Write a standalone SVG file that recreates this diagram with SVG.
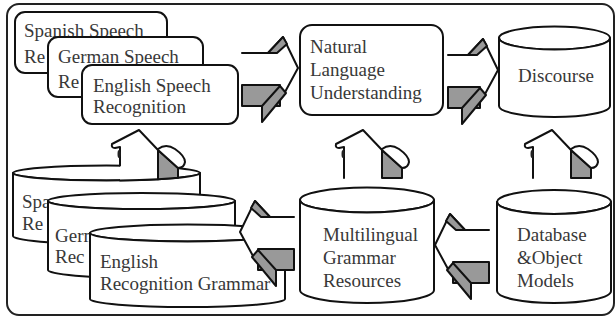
<svg xmlns="http://www.w3.org/2000/svg" width="616" height="320" viewBox="0 0 616 320">
<style>
.bg{fill:#fff}
.frame{fill:#fff;stroke:#222;stroke-width:2}
.f{fill:#fff;stroke:#111;stroke-width:2;stroke-linejoin:round}
.wf{fill:#fff;stroke:none}
.ln{fill:none;stroke:#111;stroke-width:2;stroke-linejoin:round;stroke-linecap:round}
.gy{fill:#999;stroke:#111;stroke-width:2;stroke-linejoin:round}
.tick{fill:#222}
.t{font-family:"Liberation Serif","Times New Roman",serif;font-size:19px;fill:#383838}
</style>
<rect class="bg" x="0" y="0" width="616" height="320"/>
<rect id="frame" class="frame" x="7" y="4" width="607" height="311" rx="12"/>

<g id="spanish-speech">
<rect class="f" x="15" y="12" width="152" height="61" rx="10"/>
<text class="t" x="24" y="37">Spanish Speech</text>
<text class="t" x="24" y="63">Re</text>
</g>
<g id="german-speech">
<rect class="f" x="48" y="37" width="155" height="60" rx="10"/>
<text class="t" x="58" y="63">German Speech</text>
<text class="t" x="58" y="88">Re</text>
</g>
<g id="english-speech">
<rect class="f" x="82" y="65" width="156" height="59" rx="10"/>
<text class="t" x="93" y="92">English Speech</text>
<text class="t" x="93" y="113">Recognition</text>
</g>

<g id="nlu">
<rect class="f" x="300" y="25" width="143" height="90" rx="12"/>
<text class="t" x="310" y="53">Natural</text>
<text class="t" x="310" y="76">Language</text>
<text class="t" x="310" y="99">Understanding</text>
</g>

<g id="discourse">
<ellipse class="f" cx="554.5" cy="38" rx="55.5" ry="11.5"/>
<path class="f" d="M499,38 A55.5,11.5 0 0 0 610,38 V106 A55.5,11 0 0 1 499,106 Z"/>
<text class="t" x="518" y="82">Discourse</text>
</g>

<g id="spanish-grammar">
<ellipse class="f" cx="106.5" cy="173" rx="93.5" ry="7.5"/>
<path class="f" d="M13,173 A93.5,7.5 0 0 0 200,173 V236 A93.5,8 0 0 1 13,236 Z"/>
<text class="t" x="22" y="208">Spa</text>
<text class="t" x="22" y="230">Re</text>
</g>
<g id="german-grammar">
<ellipse class="f" cx="141.5" cy="201" rx="93.5" ry="8"/>
<path class="f" d="M48,201 A93.5,8 0 0 0 235,201 V270 A93.5,8 0 0 1 48,270 Z"/>
<text class="t" x="55" y="242">Germ</text>
<text class="t" x="55" y="263">Rec</text>
</g>
<g id="english-grammar">
<ellipse class="f" cx="187.5" cy="233" rx="97.5" ry="8.5"/>
<path class="f" d="M90,233 A97.5,8.5 0 0 0 285,233 V299 A97.5,8 0 0 1 90,299 Z"/>
<text class="t" x="100" y="268">English</text>
<text class="t" x="100" y="290">Recognition Grammar</text>
</g>

<g id="multilingual">
<ellipse class="f" cx="367" cy="200" rx="67" ry="12.5"/>
<path class="f" d="M300,200 A67,12.5 0 0 0 434,200 V290 A67,13 0 0 1 300,290 Z"/>
<text class="t" x="323" y="241">Multilingual</text>
<text class="t" x="323" y="264">Grammar</text>
<text class="t" x="323" y="287">Resources</text>
</g>

<g id="database">
<ellipse class="f" cx="554" cy="202" rx="57" ry="12"/>
<path class="f" d="M497,202 A57,12 0 0 0 611,202 V291 A57,12 0 0 1 497,291 Z"/>
<text class="t" x="517" y="241">Database</text>
<text class="t" x="517" y="264">&amp;Object</text>
<text class="t" x="517" y="287">Models</text>
</g>

<g id="connectors">
<!-- right arrow: English speech -> NLU -->
<g transform="translate(268,53)">
<path class="wf" d="M-26,0 H0 L15,-16 L30,15 L17,39 L10,32 H-26 Z"/>
<path class="ln" d="M-26,0 H0 L15,-16 L30,15 L17,39"/>
<path class="gy" d="M0,0 L15,-16 L19,-9 L9,0 Z"/>
<rect class="gy" x="-26" y="32" width="38" height="21"/>
<path class="gy" d="M-6,53 L12,33 L18,40 L-6,69 Z"/>
</g>
<!-- right arrow: NLU -> Discourse -->
<g transform="translate(468,55)">
<path class="wf" d="M-20,0 H0 L15,-16 L30,15 L17,39 L10,32 H-20 Z"/>
<path class="ln" d="M-20,0 H0 L15,-16 L30,15 L17,39"/>
<path class="gy" d="M0,0 L15,-16 L19,-9 L9,0 Z"/>
<rect class="gy" x="-20" y="32" width="32" height="21"/>
<path class="gy" d="M-6,53 L12,33 L18,40 L-6,69 Z"/>
</g>
<!-- left arrow: Multilingual -> English grammar -->
<g transform="translate(270,217) scale(-1,1)">
<path class="wf" d="M-24,0 H0 L15,-16 L30,15 L17,39 L10,32 H-24 Z"/>
<path class="ln" d="M-24,0 H0 L15,-16 L30,15 L17,39"/>
<path class="gy" d="M0,0 L15,-16 L19,-9 L9,0 Z"/>
<rect class="gy" x="-24" y="32" width="36" height="21"/>
<path class="gy" d="M-6,53 L12,33 L18,40 L-6,69 Z"/>
</g>
<!-- left arrow: Database -> Multilingual -->
<g transform="translate(465,230) scale(-1,1)">
<path class="wf" d="M-24,0 H0 L15,-16 L30,15 L17,39 L10,32 H-24 Z"/>
<path class="ln" d="M-24,0 H0 L15,-16 L30,15 L17,39"/>
<path class="gy" d="M0,0 L15,-16 L19,-9 L9,0 Z"/>
<rect class="gy" x="-24" y="32" width="36" height="21"/>
<path class="gy" d="M-6,53 L12,33 L18,40 L-6,69 Z"/>
</g>
<!-- up arrow: Spanish grammar -> English speech -->
<g transform="translate(139,130)">
<path class="wf" d="M0,0 L-27,14 Q-28,18 -24,18 L-19,17 V50.42 A93.5,7.5 0 0 0 19,49.26 V20 Z"/>
<path class="ln" d="M-19,35.6 V17 L-24,18 Q-28,18 -27,14 L0,0 L19,20"/>
<path class="ln" d="M-19,50.42 A93.5,7.5 0 0 0 19,49.26"/>
<path class="gy" d="M19,20 L39,38 V47.83 A93.5,7.5 0 0 1 19,49.26 Z"/>
<path class="f" d="M19,19 Q27,13 36,19 Q46,26 46,32 Q45,38 39,38 L19,20 Z"/>
<ellipse class="tick" cx="-20" cy="24" rx="1.5" ry="4"/>
</g>
<!-- up arrow: Multilingual -> NLU -->
<g transform="translate(363,130)">
<path class="wf" d="M0,0 L-27,14 Q-28,18 -24,18 L-19,17 V48 H19 V20 Z"/>
<path class="ln" d="M-19,48 V17 L-24,18 Q-28,18 -27,14 L0,0 L19,20"/>
<path class="gy" d="M19,20 L39,38 V48 H19 Z"/>
<path class="f" d="M19,19 Q27,13 36,19 Q46,26 46,32 Q45,38 39,38 L19,20 Z"/>
<ellipse class="tick" cx="-20" cy="24" rx="1.5" ry="4"/>
</g>
<!-- up arrow: Database -> Discourse -->
<g transform="translate(552,130)">
<path class="wf" d="M0,0 L-27,14 Q-28,18 -24,18 L-19,17 V48 H19 V20 Z"/>
<path class="ln" d="M-19,48 V17 L-24,18 Q-28,18 -27,14 L0,0 L19,20"/>
<path class="gy" d="M19,20 L39,38 V48 H19 Z"/>
<path class="f" d="M19,19 Q27,13 36,19 Q46,26 46,32 Q45,38 39,38 L19,20 Z"/>
<ellipse class="tick" cx="-20" cy="24" rx="1.5" ry="4"/>
</g>
</g>
</svg>
